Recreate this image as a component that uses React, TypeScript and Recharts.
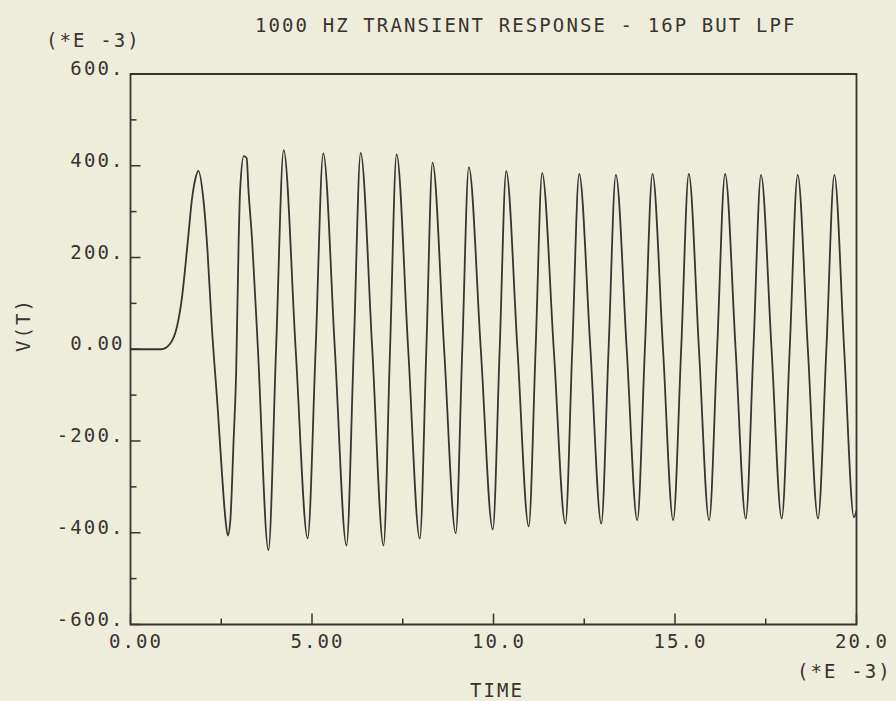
import { LineChart, Line, XAxis, YAxis, ReferenceArea } from 'recharts'

// time in ms (*E -3), voltage in mV (*E -3)
const TIME_MS = [
  0, 0.85, 1.09, 1.28, 1.42, 1.51, 1.6, 1.69, 1.78, 1.87, 2.01, 2.12, 2.24, 2.4, 2.52, 2.61, 2.68,
  2.75, 2.84, 2.91, 2.98, 3.02, 3.12, 3.2, 3.25, 3.35, 3.51, 3.8, 4.01, 4.22, 4.55, 4.88, 5.1,
  5.31, 5.63, 5.95, 6.15, 6.34, 6.66, 6.97, 7.15, 7.33, 7.65, 7.97, 8.15, 8.32, 8.64, 8.96, 9.14,
  9.32, 9.65, 9.98, 10.17, 10.35, 10.66, 10.97, 11.16, 11.34, 11.66, 11.98, 12.17, 12.36, 12.67,
  12.97, 13.17, 13.37, 13.67, 13.96, 14.17, 14.38, 14.67, 14.95, 15.17, 15.38, 15.66, 15.94,
  16.16, 16.38, 16.67, 16.95, 17.16, 17.37, 17.66, 17.94, 18.16, 18.38, 18.66, 18.94, 19.17,
  19.39, 19.66, 19.93, 20.0,
]

const V_T = [
  0, 0, 12, 49, 114, 180, 253, 325, 369, 389, 325, 216, 49, -126, -271, -366, -406,
  -373, -199, -53, 238, 347, 421, 417, 347, 238, 0, -438, 0, 434, 0, -412, 0,
  427, 0, -428, 0, 428, 0, -428, 0, 425, 0, -413, 0, 407, 0, -401, 0,
  397, 0, -393, 0, 388, 0, -386, 0, 384, 0, -380, 0, 382, 0,
  -380, 0, 380, 0, -373, 0, 382, 0, -373, 0, 382, 0, -373,
  0, 382, 0, -369, 0, 380, 0, -369, 0, 380, 0, -369, 0,
  380, 0, -366, -352,
]

const X_TICKS = [0, 2.5, 5, 7.5, 10, 12.5, 15, 17.5, 20]
const X_LABELS: Record<string, string> = { '0': '0.00', '5': '5.00', '10': '10.0', '15': '15.0', '20': '20.0' }
const Y_TICKS = [-600, -500, -400, -300, -200, -100, 0, 100, 200, 300, 400, 500, 600]
const Y_LABELS: Record<string, string> = {
  '600': '600.', '400': '400.', '200': '200.', '0': '0.00',
  '-200': '-200.', '-400': '-400.', '-600': '-600.',
}

const data = TIME_MS.map((t, i) => ({ t, v: V_T[i] }))

const INK = '#3a3331'
const PAPER = '#eeeddc'
const FONT = {
  fontFamily: '"DejaVu Sans Mono", monospace',
  fontSize: 19,
  letterSpacing: 2.1,
  fill: INK,
}

function XTick(props: any) {
  const { x, y, payload } = props
  const major = payload.value % 5 === 0
  return (
    <g>
      <line x1={x} y1={y} x2={x} y2={y - (major ? 11 : 6)} stroke={INK} strokeWidth={1.5} />
      {major && (
        <text x={x - 21.5} y={y + 23} textAnchor="start" style={FONT}>
          {X_LABELS[String(payload.value)]}
        </text>
      )}
    </g>
  )
}

function YTick(props: any) {
  const { x, y, payload } = props
  const major = payload.value % 200 === 0
  return (
    <g>
      <line x1={x} y1={y} x2={x + (major ? 10 : 6)} y2={y} stroke={INK} strokeWidth={1.5} />
      {major && (
        <text x={x - 6} y={y + 1} textAnchor="end" style={FONT}>
          {Y_LABELS[String(payload.value)]}
        </text>
      )}
    </g>
  )
}

export default function App() {
  return (
    <div style={{ position: 'absolute', left: 0, top: 0, width: 896, height: 701, background: PAPER }}>
      <LineChart
        width={896}
        height={701}
        data={data}
        margin={{ top: 74, right: 39.5, bottom: 75.5, left: 129.5 }}
      >
        <XAxis
          type="number"
          dataKey="t"
          domain={[0, 20]}
          ticks={X_TICKS}
          interval={0}
          height={1}
          tickSize={0}
          tickMargin={0}
          axisLine={false}
          tickLine={false}
          tick={<XTick />}
        />
        <YAxis
          type="number"
          domain={[-600, 600]}
          ticks={Y_TICKS}
          interval={0}
          width={1}
          tickSize={0}
          tickMargin={0}
          axisLine={false}
          tickLine={false}
          tick={<YTick />}
        />
        <ReferenceArea x1={0} x2={20} y1={-600} y2={600} fill="none" stroke={INK} strokeWidth={1.8} />
        <Line
          type="monotone"
          dataKey="v"
          stroke={INK}
          strokeWidth={1.8}
          dot={false}
          isAnimationActive={false}
        />
      </LineChart>
      <svg
        width={896}
        height={701}
        style={{ position: 'absolute', left: 0, top: 0, pointerEvents: 'none' }}
      >
        <text x={255} y={32} style={FONT}>1000 HZ TRANSIENT RESPONSE - 16P BUT LPF</text>
        <text x={46} y={47} style={FONT}>(*E -3)</text>
        <text x={797} y={678} style={FONT}>(*E -3)</text>
        <text x={470} y={697} style={FONT}>TIME</text>
        <text x={30} y={352} transform="rotate(-90 30 352)" style={FONT}>V(T)</text>
      </svg>
    </div>
  )
}
